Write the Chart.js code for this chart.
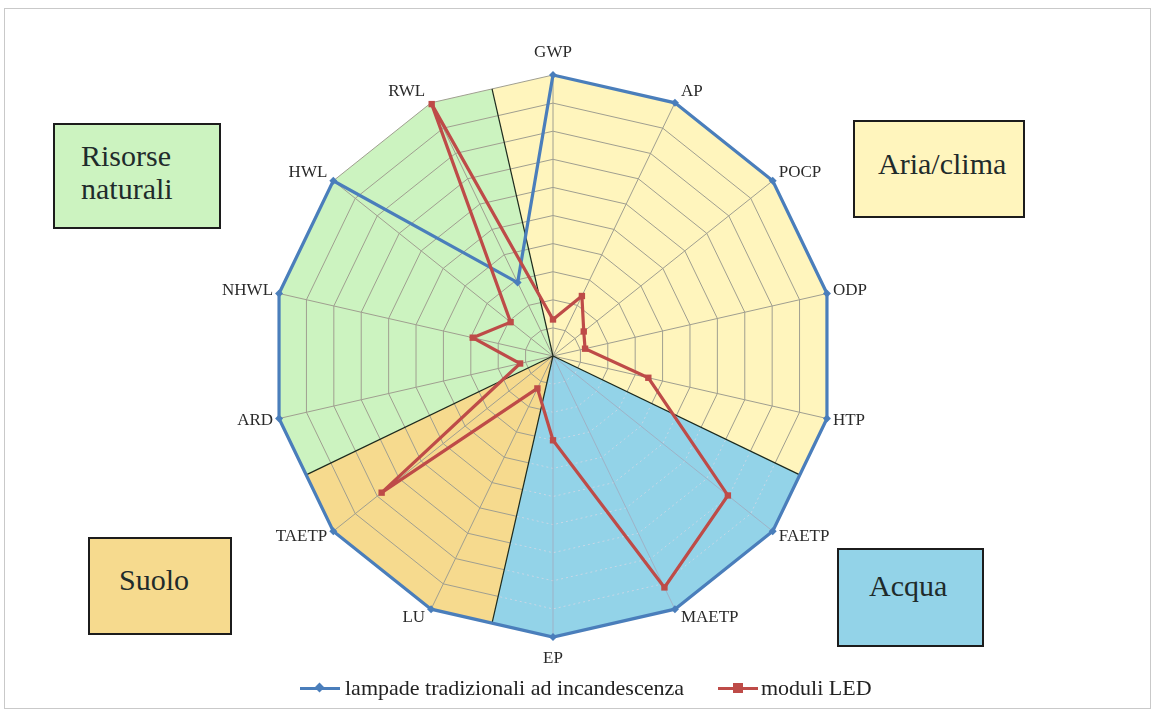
<!DOCTYPE html>
<html><head><meta charset="utf-8">
<script src="https://cdn.jsdelivr.net/npm/chart.js@4"></script>
<style>
body{margin:0;background:#fff;}
#wrap{position:relative;width:1154px;height:712px;overflow:hidden;font-family:"Liberation Serif","Times New Roman",serif;}
#frame{position:absolute;left:4px;top:8px;width:1147px;height:701px;border:1px solid #c9c9c9;box-sizing:border-box;}
#c{position:absolute;left:0;top:0;}
.box{position:absolute;border:2px solid #1c1c1c;box-sizing:border-box;font-size:30px;line-height:33px;color:#1f2b2b;}
#legend{position:absolute;left:0;top:676px;width:1154px;height:24px;font-size:22px;color:#222;}
.li{position:absolute;top:0;height:24px;line-height:24px;white-space:nowrap;}
.ln{position:absolute;top:11px;width:40px;height:3px;}
.mk{position:absolute;}
</style>
</head><body>
<div id="wrap">
  <div id="frame"></div>
  <canvas id="c" width="1154" height="712"></canvas>
  <div class="box" style="left:53px;top:123px;width:168px;height:106px;background:#ccf3c0;padding:14px 0 0 26px;">Risorse<br>naturali</div>
  <div class="box" style="left:853px;top:120px;width:172px;height:98px;background:#fff5bd;padding:25px 0 0 23px;">Aria/clima</div>
  <div class="box" style="left:88px;top:537px;width:144px;height:98px;background:#f6da8e;padding:24px 0 0 29px;">Suolo</div>
  <div class="box" style="left:837px;top:548px;width:147px;height:99px;background:#93d3e8;padding:19px 0 0 30px;">Acqua</div>
  <div id="legend">
    <div class="li" style="left:300px;">
      <span class="ln" style="left:0;background:#4a7ebb;"></span>
      <span class="mk" style="left:16px;top:8px;width:7px;height:7px;background:#4a7ebb;transform:rotate(45deg);"></span>
      <span style="position:absolute;left:45px;" id="l1"></span>
    </div>
    <div class="li" style="left:718px;">
      <span class="ln" style="left:0;background:#be4b48;"></span>
      <span class="mk" style="left:15px;top:7px;width:10px;height:10px;background:#be4b48;"></span>
      <span style="position:absolute;left:43px;" id="l2"></span>
    </div>
  </div>
</div>
<script>
const categories = ['GWP','AP','POCP','ODP','HTP','FAETP','MAETP','EP','LU','TAETP','ARD','NHWL','HWL','RWL'];
const seriesNames = ['lampade tradizionali ad incandescenza','moduli LED'];
const lampade = [100,100,100,100,100,100,100,100,100,100,100,100,100,29];
const moduliLED = [13,23.7,14,11.7,34.8,79.6,91.4,30,12.8,78,12,29.3,19.3,99.5];
const groupNames = ['Aria/clima','Acqua','Suolo','Risorse naturali'];
const groupFrom = [0,5,8,10];
const groupTo = [4,7,9,13];
const groupColors = ['#fff5bd','#93d3e8','#f6da8e','#ccf3c0'];
const scaleMax = 100, scaleStep = 10;

document.getElementById('l1').textContent = seriesNames[0];
document.getElementById('l2').textContent = seriesNames[1];

const N = categories.length;
function outerPt(scale, i){ return scale.getPointPosition(((i%N)+N)%N, scale.getDistanceFromCenterForValue(scaleMax)); }
function midPt(scale, a, b){ const p=outerPt(scale,a), q=outerPt(scale,b); return {x:(p.x+q.x)/2,y:(p.y+q.y)/2}; }
function sectorPath(ctx, scale, g){
  const c = {x:scale.xCenter,y:scale.yCenter};
  ctx.beginPath();
  ctx.moveTo(c.x,c.y);
  const m1 = midPt(scale, groupFrom[g]-1, groupFrom[g]);
  ctx.lineTo(m1.x,m1.y);
  for(let i=groupFrom[g];i<=groupTo[g];i++){ const p=outerPt(scale,i); ctx.lineTo(p.x,p.y); }
  const m2 = midPt(scale, groupTo[g], groupTo[g]+1);
  ctx.lineTo(m2.x,m2.y);
  ctx.closePath();
}
const sectorPlugin = {
  id:'sectors',
  beforeDraw(chart){
    const ctx=chart.ctx, s=chart.scales.r;
    ctx.save();
    for(let g=0;g<groupNames.length;g++){ sectorPath(ctx,s,g); ctx.fillStyle=groupColors[g]; ctx.fill(); }
    ctx.restore();
  },
  beforeDatasetsDraw(chart){
    const ctx=chart.ctx, s=chart.scales.r;
    ctx.save();
    sectorPath(ctx,s,1); ctx.clip();
    sectorPath(ctx,s,1); ctx.fillStyle=groupColors[1]; ctx.fill();
    ctx.strokeStyle='rgba(205,215,230,0.9)'; ctx.lineWidth=1; ctx.setLineDash([2,3]);
    for(let v=scaleStep; v<scaleMax; v+=scaleStep){
      const d=s.getDistanceFromCenterForValue(v);
      ctx.beginPath();
      for(let i=0;i<N;i++){ const p=s.getPointPosition(i,d); i?ctx.lineTo(p.x,p.y):ctx.moveTo(p.x,p.y); }
      ctx.closePath(); ctx.stroke();
    }
    ctx.setLineDash([]);
    ctx.strokeStyle='rgba(160,170,190,0.8)';
    for(let i=0;i<N;i++){ const p=outerPt(s,i); ctx.beginPath(); ctx.moveTo(s.xCenter,s.yCenter); ctx.lineTo(p.x,p.y); ctx.stroke(); }
    ctx.restore();
    ctx.save();
    ctx.strokeStyle='#1d2a1d'; ctx.lineWidth=1.2;
    for(let g=0;g<groupNames.length;g++){
      const m=midPt(s, groupFrom[g]-1, groupFrom[g]);
      ctx.beginPath(); ctx.moveTo(s.xCenter,s.yCenter); ctx.lineTo(m.x,m.y); ctx.stroke();
    }
    ctx.restore();
  },
  afterDraw(chart){
    const ctx=chart.ctx, s=chart.scales.r;
    ctx.save();
    ctx.font='17px "Liberation Serif", serif';
    ctx.fillStyle='#2a2a2a';
    for(let i=0;i<N;i++){
      const v=outerPt(s,i);
      const p=s.getPointPosition(i, s.drawingArea);
      const cx=Math.cos(p.angle), sy=Math.sin(p.angle);
      if (Math.abs(cx)<0.1){
        ctx.textAlign='center'; ctx.textBaseline='alphabetic';
        ctx.fillText(categories[i], v.x, sy<0 ? v.y-18 : v.y+26);
      } else {
        ctx.textAlign = cx>0?'left':'right';
        ctx.textBaseline='middle';
        const dy = sy<0 ? sy*13 : sy*9;
        ctx.fillText(categories[i], v.x + (cx>0?6:-6), v.y + dy);
      }
    }
    ctx.restore();
  }
};

new Chart(document.getElementById('c'), {
  type:'radar',
  data:{
    labels:categories,
    datasets:[
      {label:seriesNames[0], data:lampade, borderColor:'#4a7ebb', backgroundColor:'#4a7ebb', borderWidth:3.2,
       pointStyle:'rectRot', pointRadius:4, pointBackgroundColor:'#4a7ebb', pointBorderWidth:0, fill:false, order:1},
      {label:seriesNames[1], data:moduliLED, borderColor:'#be4b48', backgroundColor:'#be4b48', borderWidth:3.2,
       pointStyle:'rect', pointRadius:4.5, pointBackgroundColor:'#be4b48', pointBorderWidth:0, fill:false, order:0}
    ]
  },
  options:{
    responsive:false, animation:false, devicePixelRatio:1,
    layout:{padding:{left:272,right:320,top:75,bottom:75}},
    plugins:{legend:{display:false}, tooltip:{enabled:false}},
    scales:{r:{
      min:0, max:scaleMax, startAngle:0,
      ticks:{display:false, stepSize:scaleStep},
      grid:{color:'#a09f90', lineWidth:1},
      angleLines:{color:'#a09f90', lineWidth:1},
      pointLabels:{display:false}
    }}
  },
  plugins:[sectorPlugin]
});
</script>
</body></html>
